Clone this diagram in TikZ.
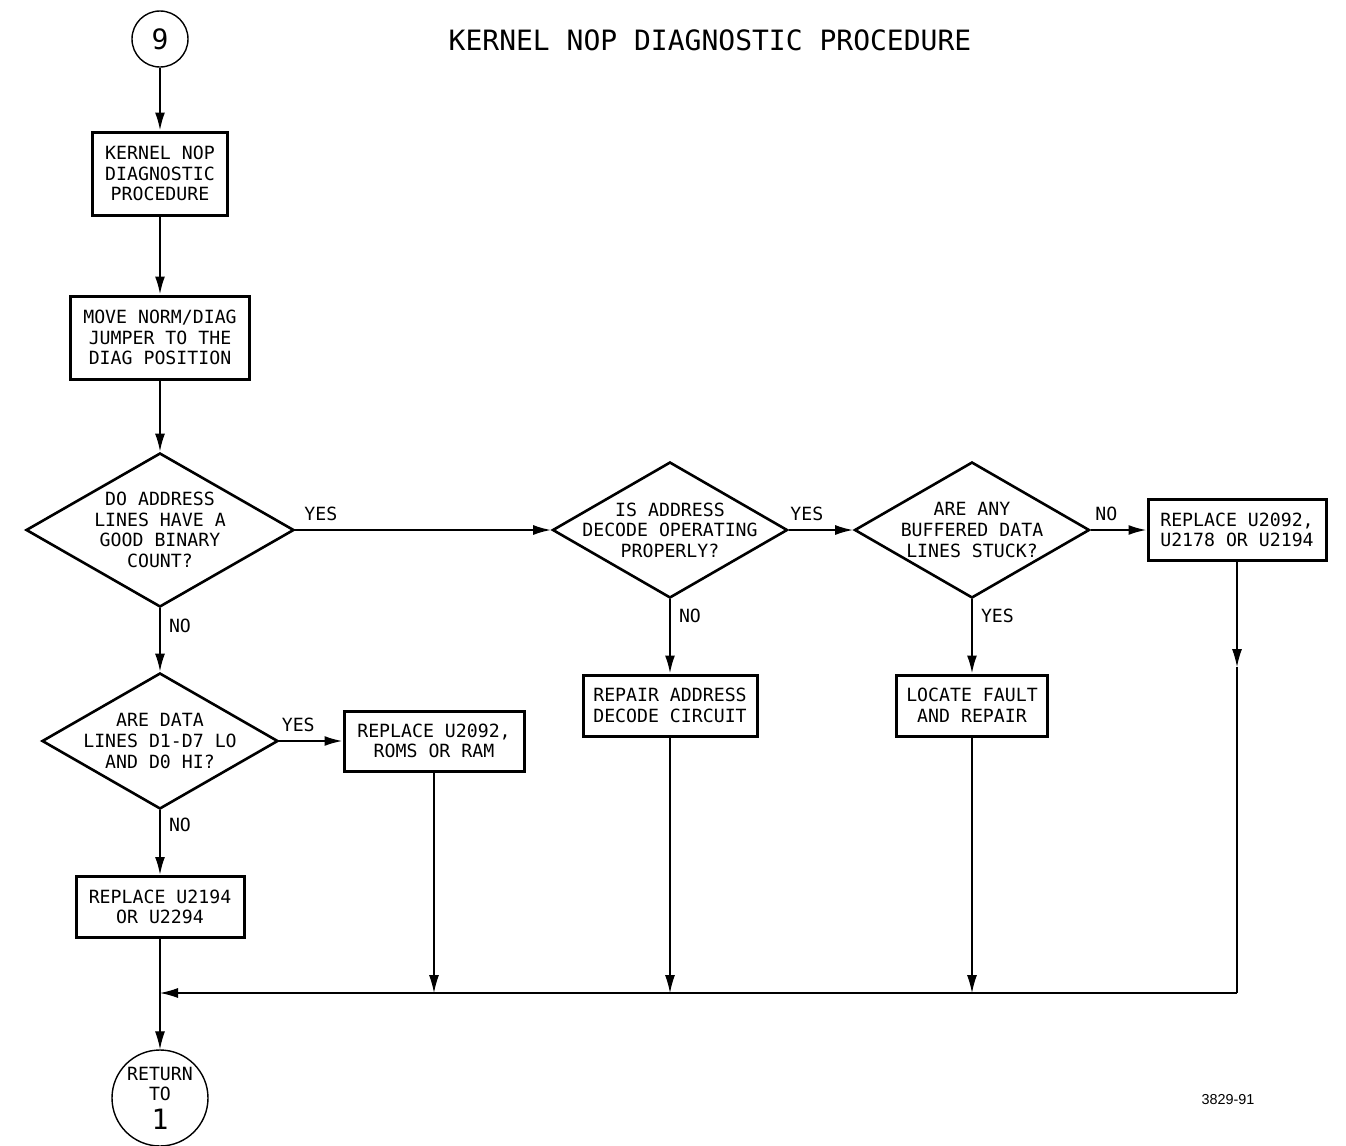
\documentclass[tikz,border=0pt]{standalone}
\usepackage{fontspec}
\usetikzlibrary{arrows.meta, shapes.geometric}
\newfontfamily\plotfont{DejaVu Sans Mono}
\newfontfamily\numfont{Liberation Sans}

\begin{document}
\begin{tikzpicture}[x=0.5pt, y=-0.5pt, line width=1pt,
        >={Latex[length=9pt, width=5pt]},
        txt/.style = {font=\plotfont\fontsize{9.1}{10.3}\selectfont, align=center},
        box/.style = {txt, draw, line width=1.5pt, inner sep=0pt},
        test/.style = {txt, draw, diamond, line width=1.3pt, inner xsep=-10pt, inner ysep=-2pt},
        term/.style = {txt, draw, circle, line width=0.7pt, inner sep=0pt},
        lbl/.style = {font=\plotfont\fontsize{9.1}{10.3}\selectfont, inner sep=4pt},
        bus/.style = {line width=0.6pt}]
            \useasboundingbox (0,0) rectangle (1346,1146);

            \node (title) at (710,40) {\plotfont\fontsize{14}{16}\selectfont KERNEL NOP DIAGNOSTIC PROCEDURE};

            \node[term, minimum size=28pt] (nine) at (160,39) {\fontsize{14}{16}\selectfont 9};
            \node[box, minimum width=67.5pt, minimum height=41.5pt] (kernel) at (160,173.5) {KERNEL NOP\\DIAGNOSTIC\\PROCEDURE};
            \node[box, minimum width=89.5pt, minimum height=41.5pt] (jumper) at (160,337.5) {MOVE NORM/DIAG\\JUMPER TO THE\\DIAG POSITION};

            \node[test, aspect=1.74, minimum width=134pt, minimum height=77pt] (addr) at (160,530) {DO ADDRESS\\LINES HAVE A\\GOOD BINARY\\COUNT?};
            \node[test, aspect=1.73, minimum width=117.5pt, minimum height=68pt] (decode) at (670,530) {IS ADDRESS\\DECODE OPERATING\\PROPERLY?};
            \node[test, aspect=1.73, minimum width=117.5pt, minimum height=68pt] (stuck) at (972,530) {ARE ANY\\BUFFERED DATA\\LINES STUCK?};
            \node[box, minimum width=89pt, minimum height=30.5pt] (buffers) at (1237,530) {REPLACE U2092,\\U2178 OR U2194};

            \node[box, minimum width=87pt, minimum height=30.5pt] (repair) at (670,705.5) {REPAIR ADDRESS\\DECODE CIRCUIT};
            \node[box, minimum width=75.5pt, minimum height=30.5pt] (locate) at (972,705.5) {LOCATE FAULT\\AND REPAIR};

            \node[test, aspect=1.73, minimum width=118pt, minimum height=68pt] (data) at (160,741) {ARE DATA\\LINES D1-D7 LO\\AND D0 HI?};
            \node[box, minimum width=90pt, minimum height=30pt] (roms) at (434,741) {REPLACE U2092,\\ROMS OR RAM};
            \node[box, minimum width=84pt, minimum height=30.5pt] (cpu) at (160,907) {REPLACE U2194\\OR U2294};

            \node[term, minimum size=48pt] (ret) at (160,1098) {RETURN\\TO\\[3pt]{\fontsize{14}{16}\selectfont 1}};
            \node (fig) at (1228,1100) {\numfont\fontsize{7.2}{8}\selectfont 3829-91};

            \coordinate (busL) at (160,993);
            \coordinate (busR) at (1237,993);
            \coordinate (midR) at (1237,667);

            \path[->] (nine) edge (kernel);
            \path[->] (kernel) edge (jumper);
            \path[->] (jumper) edge (addr);

            \path[->] (addr) edge node[lbl, pos=0.1, above] {YES} (decode);
            \path[->] (addr) edge node[lbl, pos=0.27, right] {NO} (data);
            \path[->] (decode) edge node[lbl, pos=0.28, above] {YES} (stuck);
            \path[->] (decode) edge node[lbl, pos=0.22, right] {NO} (repair);
            \path[->] (stuck) edge node[lbl, pos=0.28, above] {NO} (buffers);
            \path[->] (stuck) edge node[lbl, pos=0.22, right] {YES} (locate);
            \path[->] (data) edge node[lbl, pos=0.3, above] {YES} (roms);
            \path[->] (data) edge node[lbl, pos=0.22, right] {NO} (cpu);

            % return paths
            \path[->, bus] (roms) edge (roms |- busL);
            \path[->, bus] (repair) edge (repair |- busL);
            \path[->, bus] (locate) edge (locate |- busL);
            \draw[->, bus] (buffers) -- (midR);
            \draw[bus] (midR) -- (busR);
            \draw[->, bus] (busR) -- (busL);
            \path[->, bus] (cpu) edge (ret);
        \end{tikzpicture}
\end{document}
